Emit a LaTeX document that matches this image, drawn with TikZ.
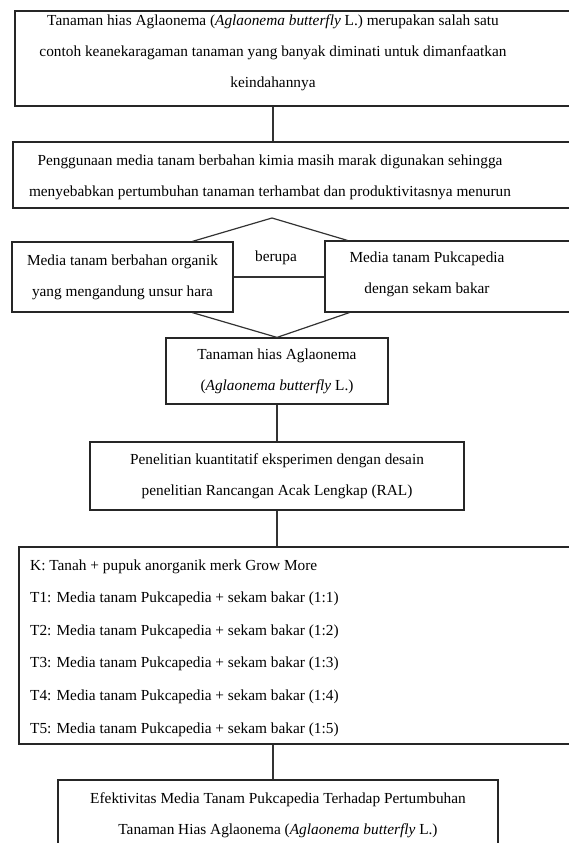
\documentclass[tikz,border=0pt]{standalone}
\usepackage{fontspec}
\setmainfont{Liberation Serif}
\usetikzlibrary{calc}

\tikzset{
  kotak/.style={draw=black!85, line width=0.9pt, inner sep=0pt},
  ukuran/.style 2 args={minimum width=#1*0.75pt, minimum height=#2*0.75pt},
  teks/.style={align=center, font=\fontsize{11.5}{23.2}\selectfont},
  garis/.style={draw=black!80, line width=0.9pt},
}

\begin{document}
\begin{tikzpicture}[x=0.75pt, y=-0.75pt]
			\useasboundingbox (0,0) rectangle (568,843);
			
			\node[kotak, ukuran={560}{95}] (latar) at (295,58.5) {};
			\node[teks] (latarT) at (273,53) {Tanaman hias Aglaonema (\textit{Aglaonema butterfly} L.) merupakan salah satu\\contoh keanekaragaman tanaman yang banyak diminati untuk dimanfaatkan\\keindahannya};
			
			\node[kotak, ukuran={562}{66}] (masalah) at (294,175) {};
			\node[teks] (masalahT) at (270,177) {Penggunaan media tanam berbahan kimia masih marak digunakan sehingga\\menyebabkan pertumbuhan tanaman terhambat dan produktivitasnya menurun};
			\draw[garis] (latarT |- latar.south) -- (latarT |- masalah.north);
			
			\node[kotak, teks, ukuran={221}{70}] (kiri) at (122.5,277) {Media tanam berbahan organik\\yang mengandung unsur hara};
			\node[kotak, ukuran={250}{71}] (kanan) at (450,276.5) {};
			\node[teks] (kananT) at (427,274) {Media tanam Pukcapedia\\dengan sekam bakar};
			\node[teks] (berupa) at (276,258) {berupa};
			\coordinate (puncak) at (272,218);
			\draw[garis] ($(kiri.north west)+(181,0)$) -- (puncak) -- ($(kanan.north west)+(23,0)$);
			\draw[garis] (kiri.east) -- (kiri.east -| kanan.west);
			
			\node[kotak, teks, ukuran={222}{66}] (tanaman) at (277,371) {Tanaman hias Aglaonema\\(\textit{Aglaonema butterfly} L.)};
			\draw[garis] ($(kiri.south west)+(181,0)$) -- (tanaman.north) -- ($(kanan.south west)+(25,0)$);
			
			\node[kotak, teks, ukuran={374}{68}] (penelitian) at (277,476) {Penelitian kuantitatif eksperimen dengan desain\\penelitian Rancangan Acak Lengkap (RAL)};
			\draw[garis] (tanaman.south) -- (penelitian.north);
			
			\node[kotak, ukuran={556}{197}] (perlakuan) at (297,645.5) {};
			\node[teks, align=left, anchor=west, font=\fontsize{11.5}{24.4}\selectfont] (perlakuanT) at (25.5,648) {K: Tanah + pupuk anorganik merk Grow More\\T1: Media tanam Pukcapedia + sekam bakar (1:1)\\T2: Media tanam Pukcapedia + sekam bakar (1:2)\\T3: Media tanam Pukcapedia + sekam bakar (1:3)\\T4: Media tanam Pukcapedia + sekam bakar (1:4)\\T5: Media tanam Pukcapedia + sekam bakar (1:5)};
			\draw[garis] (penelitian.south) -- (penelitian.south |- perlakuan.north);
			
			\node[kotak, teks, ukuran={440}{70}] (hasil) at (278,815) {Efektivitas Media Tanam Pukcapedia Terhadap Pertumbuhan\\Tanaman Hias Aglaonema (\textit{Aglaonema butterfly} L.)};
			\draw[garis] (perlakuan.south -| latarT) -- (hasil.north -| latarT);
\end{tikzpicture}
\end{document}
